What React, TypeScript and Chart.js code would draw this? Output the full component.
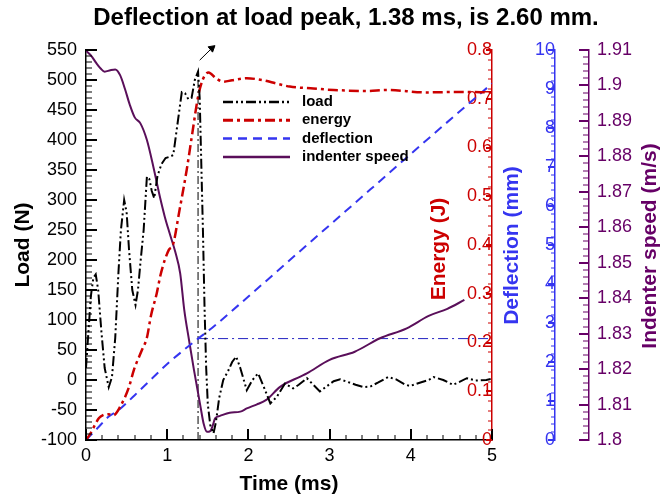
import React, { useEffect, useRef } from 'react';
import { Chart, registerables } from 'chart.js';

Chart.register(...registerables);

// ---------------- data ----------------
const TITLE = 'Deflection at load peak, 1.38 ms, is 2.60 mm.';
const seriesLabels = ['load', 'energy', 'deflection', 'indenter speed'];

const loadT = [0, 0.03, 0.06, 0.09, 0.12, 0.15, 0.19, 0.23, 0.28, 0.32, 0.36, 0.4, 0.43, 0.47, 0.5, 0.53, 0.57, 0.61, 0.64, 0.67, 0.71, 0.75, 0.78, 0.81, 0.84, 0.88, 0.93, 0.98, 1.03, 1.075, 1.13, 1.18, 1.22, 1.26, 1.3, 1.34, 1.38, 1.4, 1.42, 1.44, 1.46, 1.48, 1.5, 1.53, 1.57, 1.6, 1.64, 1.69, 1.75, 1.8, 1.85, 1.9, 1.98, 2.05, 2.12, 2.2, 2.27, 2.35, 2.45, 2.55, 2.62, 2.72, 2.8, 2.88, 2.95, 3.05, 3.13, 3.22, 3.32, 3.42, 3.5, 3.6, 3.72, 3.82, 3.92, 3.99, 4.1, 4.22, 4.28, 4.4, 4.52, 4.6, 4.69, 4.8, 4.93, 5.0];
const loadN = [20, 80, 140, 170, 176, 150, 80, 20, -12, 5, 70, 180, 250, 300, 280, 217, 150, 125, 150, 195, 250, 339, 335, 315, 303, 340, 360, 370, 372, 375, 430, 480, 478, 468, 470, 500, 514, 470, 360, 250, 120, 20, -40, -75, -89, -70, -30, 0, 15, 30, 39, 20, -17, 0, 11, -15, -39, -28, -6, -14, -8, 3, -8, -19, -12, -2, 1, -3, -8, -12, -11, -4, 5, 1, -7, -10, -5, 0, 5, 0, -8, -3, 3, -1, 0, 2];

const energyT = [0, 0.05, 0.11, 0.16, 0.21, 0.27, 0.34, 0.42, 0.53, 0.59, 0.69, 0.75, 0.8, 0.87, 0.92, 1.02, 1.07, 1.15, 1.24, 1.31, 1.38, 1.44, 1.51, 1.6, 1.69, 1.8, 1.98, 2.18, 2.35, 2.51, 2.8, 3.05, 3.46, 3.7, 4.2, 4.6, 5.0];
const energyJ = [0, 0.012, 0.031, 0.045, 0.051, 0.053, 0.051, 0.068, 0.109, 0.144, 0.185, 0.21, 0.255, 0.3, 0.34, 0.39, 0.4, 0.47, 0.554, 0.63, 0.704, 0.74, 0.754, 0.742, 0.735, 0.738, 0.742, 0.738, 0.731, 0.725, 0.721, 0.718, 0.716, 0.718, 0.713, 0.714, 0.713];

const deflT = [0, 0.14, 0.28, 0.41, 0.6, 0.8, 1.0, 1.2, 1.38, 1.555, 2.0, 2.7, 3.5, 4.2, 4.95, 5.0];
const deflMM = [0, 0.3, 0.6, 0.78, 1.15, 1.55, 1.95, 2.3, 2.6, 2.88, 3.68, 4.96, 6.42, 7.7, 9.05, 9.14];

const speedT = [0, 0.06, 0.13, 0.18, 0.23, 0.3, 0.36, 0.42, 0.48, 0.54, 0.6, 0.67, 0.75, 0.83, 0.91, 0.97, 1.03, 1.1, 1.16, 1.21, 1.27, 1.33, 1.41, 1.45, 1.49, 1.53, 1.56, 1.59, 1.65, 1.77, 1.9, 1.98, 2.1, 2.22, 2.39, 2.64, 2.72, 3.0, 3.31, 3.62, 3.95, 4.22, 4.45, 4.66];
const speedMS = [1.9098, 1.9085, 1.9062, 1.9048, 1.9039, 1.9043, 1.9045, 1.9029, 1.899, 1.8945, 1.891, 1.8893, 1.8846, 1.877, 1.8686, 1.863, 1.8583, 1.853, 1.847, 1.8367, 1.828, 1.8197, 1.8094, 1.8045, 1.8023, 1.8025, 1.804, 1.8061, 1.8068, 1.8077, 1.808, 1.8089, 1.81, 1.8113, 1.815, 1.8179, 1.8188, 1.8226, 1.8249, 1.8287, 1.8315, 1.835, 1.837, 1.8395];

const peakLineT = [1.38, 1.38];
const peakLineN = [-100, 514];
const deflMarkT = [1.38, 5];
const deflMarkMM = [2.6, 2.6];
const arrowT = [1.4, 1.55];
const arrowN = [533, 553];

const timeRange = [0, 5];
const loadRange = [-100, 550];
const energyRange = [0, 0.8];
const deflRange = [0, 10];
const speedRange = [1.8, 1.91];

// ---------------- style ----------------
const FONT = "'Liberation Sans', Arial, sans-serif";
const BLACK = '#000000';
const RED = '#cc0000';
const BLUE = '#3535f0';
const PURPLE = '#5a0f5a';
const PURPLE_AXIS = '#660066';
const DEFL_AXIS_AT = 5.776; // x-value where the deflection axis stands

const pts = (t: number[], v: number[]) => t.map((x, i) => ({ x, y: v[i] }));
const fmt = (v: number | string) => String(Math.round(Number(v) * 1000) / 1000);
const tickFont = { family: FONT, size: 18 };
const titleFont = { family: FONT, size: 21, weight: 'bold' as const };
const noTickGrid = { display: true, drawOnChartArea: false, drawTicks: false };

const hiddenAxis = (pos: any, range: number[], step: number) => ({
  type: 'linear',
  display: false,
  position: pos,
  min: range[0],
  max: range[1],
  ticks: { stepSize: step, autoSkip: false, maxTicksLimit: 1000 },
});

type TickSpec = { horiz: boolean; base: (c: any) => number; len: number; dir: number; width: number; color: string };
const tickSpecs: Record<string, TickSpec> = {
  x: { horiz: true, base: (c) => c.scales.x.top, len: 11, dir: -1, width: 2, color: BLACK },
  xMinor: { horiz: true, base: (c) => c.scales.x.top, len: 5, dir: -1, width: 1, color: BLACK },
  yLoad: { horiz: false, base: (c) => c.scales.yLoad.right, len: 11, dir: 1, width: 2, color: BLACK },
  yLoadMinor: { horiz: false, base: (c) => c.scales.yLoad.right, len: 6, dir: 1, width: 1, color: BLACK },
  yE: { horiz: false, base: (c) => c.scales.pad.left, len: 6, dir: -1, width: 2, color: RED },
  yEMinor: { horiz: false, base: (c) => c.scales.pad.left, len: 4, dir: -1, width: 1, color: RED },
  yD: { horiz: false, base: (c) => c.scales.x.getPixelForValue(DEFL_AXIS_AT), len: 7, dir: -1, width: 2, color: BLUE },
  yDMinor: { horiz: false, base: (c) => c.scales.x.getPixelForValue(DEFL_AXIS_AT), len: 4, dir: -1, width: 1, color: BLUE },
  yS: { horiz: false, base: (c) => c.scales.yS.left, len: 10, dir: -1, width: 2, color: PURPLE_AXIS },
  ySMinor: { horiz: false, base: (c) => c.scales.yS.left, len: 6, dir: -1, width: 1, color: PURPLE_AXIS },
};

const drawTickMarks = (chart: any) => {
  const ctx = chart.ctx;
  for (const id of Object.keys(tickSpecs)) {
    const s = chart.scales[id];
    if (!s) continue;
    const sp = tickSpecs[id];
    const b = Math.round(sp.base(chart));
    ctx.fillStyle = sp.color;
    for (const t of s.ticks || []) {
      const p = Math.round(s.getPixelForValue(Number(t.value)));
      if (!isFinite(p) || !isFinite(b)) continue;
      if (sp.horiz) {
        const y0 = sp.dir < 0 ? b - sp.len : b;
        ctx.fillRect(p - sp.width / 2, y0, sp.width, sp.len);
      } else {
        const x0 = sp.dir < 0 ? b - sp.len : b;
        ctx.fillRect(x0, p - sp.width / 2, sp.len, sp.width);
      }
    }
  }
};

const overlayPlugin = {
  id: 'overlay',
  afterDraw(chart: any) {
    const { ctx, chartArea: ca, scales } = chart;
    ctx.save();

    // main title
    ctx.fillStyle = BLACK;
    ctx.font = `bold 24px ${FONT}`;
    ctx.textAlign = 'center';
    ctx.textBaseline = 'middle';
    ctx.fillText(TITLE, 346, 18.5);

    // rotated axis titles
    const midY = (ca.top + ca.bottom) / 2;
    const rot = (text: string, x: number, y: number, color: string) => {
      ctx.save();
      ctx.translate(x, y);
      ctx.rotate(-Math.PI / 2);
      ctx.fillStyle = color;
      ctx.font = `bold 21px ${FONT}`;
      ctx.textAlign = 'center';
      ctx.textBaseline = 'middle';
      ctx.fillText(text, 0, 0);
      ctx.restore();
    };
    rot('Energy (J)', scales.x.getPixelForValue(timeRange[1]) - 53, midY + 4, RED);
    rot('Deflection (mm)', scales.x.getPixelForValue(DEFL_AXIS_AT) - 43, midY + 0.5, BLUE);
    rot('Indenter speed (m/s)', scales.yS.left + 61, midY + 1, PURPLE_AXIS);

    // legend
    const x0 = ca.left + 137;
    const x1 = ca.left + 204;
    const tx = ca.left + 216;
    let y = ca.top + 52;
    for (let i = 0; i < 4; i++) {
      const ds = chart.data.datasets[i];
      ctx.save();
      ctx.strokeStyle = ds.borderColor;
      ctx.lineWidth = ds.borderWidth + 0.5;
      ctx.setLineDash(ds.borderDash || []);
      ctx.beginPath();
      ctx.moveTo(x0, y);
      ctx.lineTo(x1, y);
      ctx.stroke();
      ctx.restore();
      ctx.fillStyle = BLACK;
      ctx.font = `bold 15px ${FONT}`;
      ctx.textAlign = 'left';
      ctx.textBaseline = 'middle';
      ctx.fillText(ds.label, tx, y);
      y += 18.3;
    }

    // tick marks, taken from each scale's own ticks
    ctx.save();
    ctx.setTransform(1, 0, 0, 1, 0, 0);
    ctx.globalAlpha = 1;
    ctx.globalCompositeOperation = 'source-over';
    drawTickMarks(chart);
    ctx.restore();

    ctx.restore();
  },
};

export default function App() {
  const ref = useRef<HTMLCanvasElement>(null);

  useEffect(() => {
    if (!ref.current) return;
    const chart = new Chart(ref.current, {
      type: 'line',
      data: {
        datasets: [
          { label: seriesLabels[0], data: pts(loadT, loadN), yAxisID: 'yLoad', borderColor: BLACK, borderWidth: 2, borderDash: [10, 3, 2, 3, 2, 3], pointRadius: 0, tension: 0 },
          { label: seriesLabels[1], data: pts(energyT, energyJ), yAxisID: 'yE', borderColor: RED, borderWidth: 2.5, borderDash: [10, 4, 3, 4], pointRadius: 0, cubicInterpolationMode: 'monotone' },
          { label: seriesLabels[2], data: pts(deflT, deflMM), yAxisID: 'yD', borderColor: BLUE, borderWidth: 2, borderDash: [9, 6], pointRadius: 0, cubicInterpolationMode: 'monotone' },
          { label: seriesLabels[3], data: pts(speedT, speedMS), yAxisID: 'yS', borderColor: PURPLE, borderWidth: 2, pointRadius: 0, cubicInterpolationMode: 'monotone' },
          { label: 'peak time', data: pts(peakLineT, peakLineN), yAxisID: 'yLoad', borderColor: BLACK, borderWidth: 1, borderDash: [8, 3, 2, 3], pointRadius: 0 },
          { label: 'peak deflection', data: pts(deflMarkT, deflMarkMM), yAxisID: 'yD', borderColor: '#2020c0', borderWidth: 1, borderDash: [10, 4, 2, 4], pointRadius: 0 },
          { label: 'arrow', data: pts(arrowT, arrowN), yAxisID: 'yLoad', borderColor: BLACK, backgroundColor: BLACK, borderWidth: 1, pointRadius: [0, 4], pointStyle: 'triangle', pointRotation: 50, clip: false },
        ] as any,
      },
      plugins: [overlayPlugin],
      options: {
        responsive: false,
        animation: false,
        devicePixelRatio: 1,
        layout: { padding: { top: 50, left: 0, right: 0, bottom: 0 } },
        plugins: { legend: { display: false }, title: { display: false }, tooltip: { enabled: false } },
        scales: {
          x: {
            type: 'linear', position: 'bottom', min: timeRange[0], max: timeRange[1],
            ticks: { stepSize: 1, font: tickFont, color: BLACK, padding: 5, callback: fmt, maxRotation: 0, autoSkip: false },
            grid: noTickGrid,
            border: { color: BLACK, width: 1.5 },
            title: { display: true, text: 'Time (ms)', font: titleFont, color: BLACK, padding: { top: 0, bottom: 3 } },
            afterFit: (s: any) => { s.height = 60; },
          },
          xMinor: hiddenAxis({ yLoad: loadRange[0] }, timeRange, 0.2),
          yLoad: {
            type: 'linear', position: 'left', min: loadRange[0], max: loadRange[1],
            ticks: { stepSize: 50, font: tickFont, color: BLACK, padding: 9, callback: fmt, autoSkip: false },
            grid: noTickGrid,
            border: { color: BLACK, width: 1.5 },
            title: { display: true, text: 'Load (N)', font: titleFont, color: BLACK, padding: { top: 11, bottom: 0 } },
            afterFit: (s: any) => { s.width = 86; },
          },
          yLoadMinor: hiddenAxis({ x: timeRange[0] }, loadRange, 10),
          yE: {
            type: 'linear', position: { x: timeRange[1] }, min: energyRange[0], max: energyRange[1],
            ticks: { stepSize: 0.1, font: tickFont, color: RED, padding: 5, callback: fmt, autoSkip: false },
            grid: noTickGrid,
            border: { color: RED, width: 1.5 },
          },
          yEMinor: hiddenAxis({ x: timeRange[1] }, energyRange, 0.02),
          yD: {
            type: 'linear', position: { x: DEFL_AXIS_AT }, min: deflRange[0], max: deflRange[1],
            ticks: { stepSize: 1, font: tickFont, color: BLUE, padding: 17, callback: fmt, autoSkip: false },
            grid: noTickGrid,
            border: { color: BLUE, width: 1.5 },
          },
          yDMinor: hiddenAxis({ x: DEFL_AXIS_AT }, deflRange, 0.2),
          pad: {
            type: 'linear', position: 'right', weight: 1, min: 0, max: 1,
            ticks: { display: false }, grid: { display: false }, border: { display: false },
            afterFit: (s: any) => { s.width = 97; },
          },
          ySMinor: hiddenAxis('right', speedRange, 0.002),
          yS: {
            type: 'linear', position: 'right', weight: 3, min: speedRange[0], max: speedRange[1],
            ticks: { stepSize: 0.01, font: tickFont, color: PURPLE_AXIS, padding: 8, callback: fmt, autoSkip: false },
            grid: noTickGrid,
            border: { color: PURPLE_AXIS, width: 1.5 },
            afterFit: (s: any) => { s.width = 72; },
          },
        } as any,
      },
    } as any);
    return () => chart.destroy();
  }, []);

  return (
    <div style={{ position: 'absolute', left: 0, top: 0, width: 661, height: 500 }}>
      <canvas ref={ref} width={661} height={500} style={{ display: 'block' }} />
    </div>
  );
}
